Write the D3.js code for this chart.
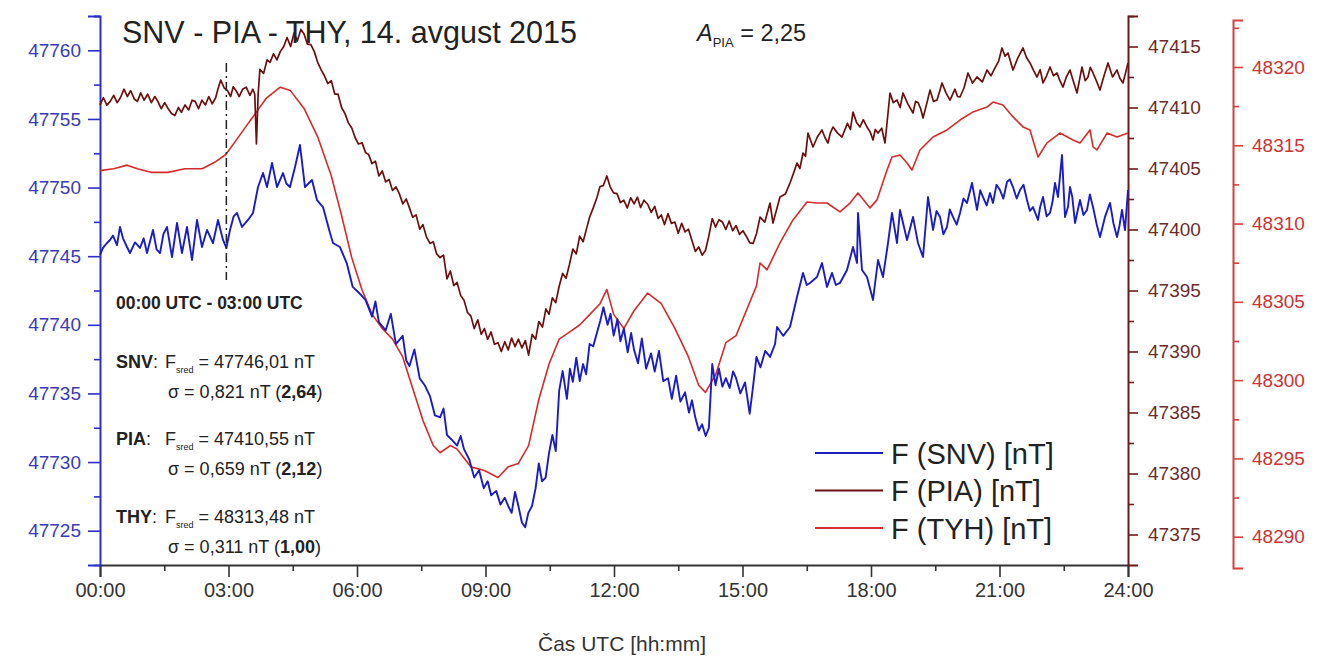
<!DOCTYPE html>
<html>
<head>
<meta charset="utf-8">
<script src="https://cdn.jsdelivr.net/npm/d3@7"></script>
<style>
  body { margin: 0; background: #fff; }
  svg { font-family: "Liberation Sans", Arial, sans-serif; }
</style>
</head>
<body>
<div id="chart"></div>
<script>
// time in hours UTC, total field F in nT
let snvTime = [0,0.07,0.163,0.233,0.303,0.397,0.467,0.537,0.63,0.7,0.817,0.934,1.02,1.097,1.237,1.32,1.401,1.48,1.564,1.681,1.798,1.914,2.031,2.148,2.265,2.381,2.498,2.638,2.755,2.872,2.95,3.035,3.12,3.198,3.315,3.455,3.572,3.689,3.806,3.899,4.016,4.132,4.272,4.35,4.436,4.553,4.669,4.786,4.949,5.066,5.206,5.37,5.44,5.6,5.76,5.9,6.05,6.2,6.352,6.43,6.511,6.67,6.79,6.908,7.067,7.15,7.225,7.34,7.464,7.58,7.704,7.82,7.94,8.02,8.101,8.22,8.337,8.42,8.498,8.62,8.736,8.85,8.96,9.05,9.133,9.25,9.35,9.45,9.53,9.61,9.69,9.768,9.85,9.927,10,10.086,10.17,10.245,10.32,10.404,10.48,10.562,10.64,10.72,10.801,10.9,10.97,11.039,11.12,11.2,11.277,11.35,11.43,11.515,11.6,11.68,11.753,11.85,11.92,11.992,12.08,12.15,12.23,12.32,12.4,12.468,12.56,12.65,12.75,12.865,12.95,13.05,13.15,13.262,13.35,13.45,13.55,13.659,13.75,13.82,13.897,13.98,14.056,14.14,14.215,14.294,14.37,14.45,14.53,14.612,14.7,14.78,14.85,14.95,15.06,15.168,15.25,15.326,15.42,15.53,15.644,15.76,15.806,15.95,16.109,16.272,16.413,16.5,16.576,16.739,16.856,16.973,17.09,17.18,17.276,17.44,17.58,17.673,17.697,17.79,17.907,18.047,18.164,18.28,18.397,18.49,18.607,18.677,18.841,18.981,19.097,19.214,19.331,19.448,19.53,19.611,19.69,19.774,19.84,19.914,20,20.078,20.16,20.241,20.358,20.475,20.55,20.615,20.7,20.778,20.848,20.93,21.012,21.09,21.175,21.24,21.315,21.4,21.479,21.56,21.642,21.71,21.782,21.899,21.95,22.016,22.1,22.179,22.24,22.296,22.366,22.459,22.529,22.6,22.646,22.7,22.763,22.879,22.96,23.043,23.11,23.183,23.27,23.346,23.463,23.58,23.66,23.743,23.8,23.86,23.93,24];
let snvF = [47745.09,47745.6,47745.96,47746.18,47746.5,47745.8,47747.13,47746.3,47745.67,47745.23,47746,47745.6,47746.3,47745.23,47746.91,47745.5,47745.23,47746.6,47747.13,47744.94,47747.42,47745.23,47747.13,47744.72,47747.64,47745.67,47746.91,47745.96,47747.64,47746.18,47745.6,47746.91,47747.9,47748.15,47747.13,47747.64,47748.15,47750.04,47751.06,47750.04,47751.79,47750.04,47751.06,47750.3,47750.04,47751.5,47753.1,47750.04,47750.55,47749.09,47748.58,47746.69,47745.96,47745.67,47744.5,47742.76,47742.32,47741.8,47740.6,47741.7,47740.2,47739.6,47740.8,47738.6,47739.2,47737.4,47737,47738.2,47736.1,47735.6,47734.8,47733.4,47733.26,47733.9,47731.97,47731.6,47731.2,47731.9,47730.94,47730.2,47728.87,47729.4,47728.1,47728.6,47727.58,47727.9,47726.9,47727.4,47726.8,47726.3,47727.83,47726.8,47725.6,47725.25,47726.3,47726.8,47728.1,47729.9,47728.6,47728.87,47730.6,47731.97,47730.8,47735.2,47736.63,47734.6,47736.8,47735.85,47737.6,47735.9,47737.14,47736.4,47738.6,47738.44,47739.4,47740.3,47741.28,47740,47740.8,47739.21,47740.4,47738.8,47739.73,47738,47739.4,47738.18,47737.2,47739,47736.8,47737.92,47736.6,47738.1,47735.9,47736.11,47734.6,47736.3,47734.4,47735.08,47733.6,47734.5,47733.26,47732.3,47732.75,47731.9,47732.49,47737.14,47735.6,47736.8,47735.5,47736.11,47735.4,47736.6,47736.11,47735,47735.8,47733.52,47735.6,47737.66,47736.9,47738.1,47737.66,47738.6,47739.84,47739.2,47739.84,47742.03,47743.78,47742.9,47743.05,47743.48,47744.5,47742.76,47743.78,47742.9,47743.05,47743.99,47745.67,47744.5,47748.15,47743.99,47743.48,47741.81,47744.72,47743.48,47745.96,47748.15,47745.96,47748.37,47746.18,47747.86,47745.96,47744.94,47749.31,47746.91,47748.3,47747.86,47746.6,47747.13,47748.4,47747.86,47747.3,47748.15,47749.2,47748.88,47750.33,47748.37,47749.8,47749.31,47748.7,47749.6,47748.88,47750.2,47749.82,47749.2,47750.41,47750.6,47750.04,47749.2,47749.82,47750.2,47749.09,47748.3,47748.58,47747.64,47748.6,47749.31,47747.9,47748.15,47749,47750.33,47749.31,47752.37,47747.86,47748.6,47750.04,47749.3,47747.42,47749.09,47748,47748.37,47749.5,47748.58,47747.3,47746.4,47747.86,47748.88,47747.4,47746.4,47747.2,47748.37,47746.9,47749.82];

let piaTime = [0,0.08,0.16,0.238,0.32,0.4,0.476,0.56,0.64,0.715,0.8,0.873,0.95,1.03,1.112,1.2,1.28,1.35,1.43,1.51,1.588,1.67,1.747,1.83,1.9,1.985,2.07,2.15,2.223,2.3,2.38,2.461,2.54,2.62,2.7,2.76,2.819,2.9,2.978,3.05,3.11,3.176,3.25,3.33,3.414,3.5,3.57,3.613,3.652,3.692,3.732,3.82,3.9,3.97,4.05,4.13,4.208,4.29,4.367,4.45,4.53,4.605,4.69,4.764,4.84,4.923,5,5.082,5.16,5.24,5.32,5.4,5.48,5.558,5.64,5.72,5.796,5.88,5.96,6.034,6.12,6.2,6.273,6.35,6.43,6.511,6.59,6.67,6.749,6.83,6.91,6.987,7.07,7.15,7.225,7.3,7.38,7.464,7.54,7.62,7.704,7.78,7.86,7.94,8.02,8.101,8.18,8.26,8.337,8.42,8.498,8.58,8.66,8.736,8.82,8.9,8.974,9.05,9.13,9.21,9.292,9.37,9.45,9.53,9.61,9.69,9.768,9.85,9.93,10.006,10.09,10.17,10.245,10.33,10.41,10.483,10.56,10.64,10.721,10.8,10.88,10.959,11.04,11.12,11.198,11.28,11.356,11.43,11.515,11.6,11.674,11.75,11.833,11.91,11.99,12.071,12.15,12.23,12.309,12.39,12.47,12.547,12.62,12.7,12.786,12.87,12.95,13.03,13.103,13.18,13.26,13.34,13.421,13.5,13.58,13.66,13.738,13.82,13.9,13.977,14.06,14.135,14.21,14.294,14.37,14.45,14.532,14.61,14.69,14.77,14.85,14.93,15.01,15.088,15.17,15.247,15.33,15.409,15.52,15.642,15.712,15.875,16,16.109,16.19,16.272,16.34,16.413,16.47,16.529,16.646,16.75,16.856,16.93,16.996,17.05,17.113,17.22,17.323,17.45,17.52,17.58,17.66,17.743,17.82,17.907,17.98,18.047,18.1,18.164,18.25,18.327,18.444,18.52,18.607,18.68,18.747,18.86,18.981,19.04,19.1,19.16,19.214,19.3,19.378,19.46,19.541,19.6,19.658,19.75,19.845,19.96,20.02,20.078,20.17,20.265,20.37,20.475,20.6,20.708,20.8,20.895,20.98,21.058,21.13,21.198,21.315,21.42,21.549,21.63,21.712,21.8,21.876,21.95,22.016,22.1,22.179,22.26,22.343,22.41,22.483,22.56,22.646,22.72,22.809,22.87,22.926,23,23.066,23.12,23.183,23.26,23.346,23.44,23.533,23.64,23.743,23.81,23.883,23.94,24];
let piaF = [47410.21,47410.8,47410.2,47410.5,47411,47410.4,47410.8,47411.5,47410.9,47411.38,47410.7,47410.5,47411.2,47410.6,47411.09,47410.4,47410.9,47410.5,47409.9,47410.4,47409.92,47409.5,47409.34,47410,47409.6,47410.21,47409.8,47410.6,47410.5,47409.9,47410.6,47410.21,47410.9,47410.3,47410.8,47411.6,47412.25,47411.6,47411.38,47410.9,47411.7,47411.38,47410.9,47411.5,47411.67,47411,47411.5,47411.09,47407.01,47411.09,47413.12,47412.8,47413.9,47413.7,47414.4,47413.9,47414.58,47415,47415.74,47415,47416.1,47415.45,47416.4,47416.03,47415.2,47415.16,47414.6,47413.7,47413.1,47412.6,47411.96,47412.2,47411.1,47411.09,47410,47409.5,47408.76,47408.3,47407.5,47407.01,47407.1,47406.3,47406.14,47405.4,47405.6,47404.39,47404.8,47403.9,47404.1,47403.2,47403.5,47402.94,47402.1,47402.5,47401.77,47401,47401.2,47400.03,47400.4,47399.4,47398.86,47399,47398,47397.7,47397.9,47395.95,47396.6,47395.4,47395.66,47394.6,47394.21,47393.2,47392.9,47391.88,47392.6,47391.4,47391.88,47391,47391.6,47390.6,47390.72,47390,47390.8,47390.13,47391.1,47390.4,47391.01,47390.3,47390.9,47389.7,47391.4,47391,47392.46,47392,47393.5,47393.04,47394.4,47394,47395.37,47396.4,47396,47397.12,47398.4,47398,47399.45,47399,47400.03,47401,47401.77,47402.6,47403.52,47403.6,47404.39,47403.5,47403,47402.94,47402.2,47402.4,47401.77,47402.6,47402.1,47402.65,47401.8,47402.4,47402.07,47401.4,47401.9,47400.9,47401.19,47400.4,47401.3,47400.5,47400.61,47399.7,47400.5,47399.8,47400.03,47399.1,47398.2,47398.57,47397.9,47398.28,47399.4,47400.9,47400.2,47400.8,47400.61,47400,47400.7,47399.9,47400.32,47399.6,47399.9,47399.45,47398.9,47398.86,47399.7,47401.02,47400.6,47402.17,47400.53,47402.66,47402.9,47403.81,47404.6,47405.45,47405,47406.27,47406,47407.91,47406.76,47407.6,47408.16,47407.5,47407.09,47407.9,47408.4,47407.9,47407.58,47408.7,47408.2,47409.63,47408.8,47408.4,47409,47408.4,47408,47407.34,47408.2,47407.91,47408.3,47407.09,47411.19,47410.4,47410.61,47410,47411.19,47410.3,47409.55,47410.5,47410.4,47409.9,47409.14,47410.3,47411.43,47410.5,47410.61,47411.3,47412.01,47411.2,47410.61,47411.5,47410.9,47410.86,47411.6,47412.83,47412,47412.5,47412.1,47413.07,47412.6,47413.24,47413.8,47414.88,47414.2,47414.47,47413.07,47414,47414.88,47414.1,47413.65,47413,47412.5,47413.1,47412.01,47412.6,47413.32,47412.6,47412.83,47412.2,47411.68,47412.5,47413.07,47412.2,47411.19,47412.3,47413.32,47412.2,47412.5,47413.3,47412.83,47412.2,47411.43,47412.6,47413.65,47412.5,47413.07,47412.4,47412.01,47412.8,47413.65];

let tyhTime = [0,0.318,0.635,0.873,1.191,1.588,1.985,2.382,2.7,2.938,3.176,3.414,3.652,3.891,4.208,4.446,4.764,5.082,5.399,5.637,5.876,6.114,6.352,6.59,6.828,7.067,7.305,7.543,7.781,7.94,8.178,8.339,8.657,8.974,9.292,9.53,9.768,10.006,10.245,10.483,10.721,10.959,11.198,11.436,11.674,11.833,11.992,12.23,12.468,12.786,13.103,13.421,13.738,13.977,14.135,14.374,14.612,14.85,15.088,15.326,15.409,15.572,15.875,16.179,16.506,16.739,16.973,17.276,17.51,17.697,17.977,18.14,18.374,18.49,18.677,18.841,18.957,19.144,19.448,19.774,20.078,20.382,20.708,20.848,21.082,21.315,21.549,21.712,21.899,22.109,22.412,22.716,22.879,23.113,23.183,23.276,23.51,23.743,24];
let tyhF = [48313.38,48313.5,48313.73,48313.5,48313.27,48313.27,48313.5,48313.5,48313.95,48314.41,48315.31,48316.22,48317.13,48318.03,48318.71,48318.49,48317.35,48315.54,48313.05,48310.55,48307.83,48305.79,48304.2,48303.3,48302.62,48301.48,48299.44,48297.4,48295.82,48295.36,48295.82,48295.59,48294.46,48294.23,48293.78,48294.46,48294.68,48295.82,48298.76,48301.03,48302.62,48303.07,48303.52,48304.2,48304.88,48305.79,48304.2,48303.3,48304.43,48305.56,48304.88,48303.3,48301.48,48299.67,48299.22,48300.35,48302.39,48302.84,48304.43,48306.02,48307.48,48307.04,48308.76,48310.23,48311.38,48311.31,48311.31,48310.74,48311.31,48311.95,48311,48311.51,48313.42,48314.25,48314.38,48313.87,48313.42,48314.7,48315.53,48315.98,48316.61,48317.13,48317.44,48317.76,48317.57,48316.81,48316.17,48315.98,48314.25,48315.15,48315.78,48315.34,48315.15,48315.98,48314.89,48314.7,48315.78,48315.53,48315.78];

let xTicks = [0,3,6,9,12,15,18,21,24];
let snvTicks = [47725,47730,47735,47740,47745,47750,47755,47760];
let piaTicks = [47375,47380,47385,47390,47395,47400,47405,47410,47415];
let tyhTicks = [48290,48295,48300,48305,48310,48315,48320];

let legendNames = ["F (SNV) [nT]", "F (PIA) [nT]", "F (TYH) [nT]"];

const blue = "#1c1cc4", maroon = "#6e0f0f", red = "#d42c2c";
const W = 1322, H = 657;

let svg = d3.select("#chart").append("svg")
    .attr("width", W).attr("height", H);

let x = d3.scaleLinear().domain([0, 24]).range([100, 1128]);
let ySnv = d3.scaleLinear().domain([47722.5, 47762.5]).range([565, 16]);
let yPia = d3.scaleLinear().domain([47372.5, 47417.5]).range([565, 16]);
let yTyh = d3.scaleLinear().domain([48288, 48323]).range([568, 20]);

function minors(ticks, step) {
    let m = ticks.map(d => d + step / 2);
    m.unshift(ticks[0] - step / 2);
    return m;
}

function styleAxis(g, color, labelColor) {
    g.select(".domain").attr("stroke", color).attr("stroke-width", 2);
    g.selectAll(".tick line").attr("stroke", color).attr("stroke-width", 1.6);
    g.selectAll(".tick text").attr("fill", labelColor)
        .style("font-size", "19px")
        .style("font-family", "Liberation Sans, Arial, sans-serif");
}

// x axis
let xg = svg.append("g").attr("transform", "translate(0,565)")
    .call(d3.axisBottom(x).tickValues(xTicks).tickSize(12).tickPadding(6)
        .tickFormat(d => (d < 10 ? "0" : "") + d + ":00"));
styleAxis(xg, "#333", "#333");
xg.selectAll(".tick text").style("font-size", "20px");
let xm = svg.append("g").attr("transform", "translate(0,565)")
    .call(d3.axisBottom(x).tickValues(xTicks.slice(0, -1).map(d => d + 1.5)).tickSize(6).tickFormat(""));
styleAxis(xm, "#333", "#333");
xm.select(".domain").remove();

// left axis SNV
let lg = svg.append("g").attr("transform", "translate(100,0)")
    .call(d3.axisLeft(ySnv).tickValues(snvTicks).tickSize(12).tickPadding(7).tickFormat(d3.format("d")));
styleAxis(lg, "#2e2ec8", "#3a3ab4");
let lm = svg.append("g").attr("transform", "translate(100,0)")
    .call(d3.axisLeft(ySnv).tickValues(minors(snvTicks, 5).concat([47762.5])).tickSize(6).tickFormat(""));
styleAxis(lm, "#2e2ec8", "#3a3ab4");
lm.select(".domain").remove();

// right axis PIA
let rg = svg.append("g").attr("transform", "translate(1128,0)")
    .call(d3.axisRight(yPia).tickValues(piaTicks).tickSize(10).tickPadding(10).tickFormat(d3.format("d")));
styleAxis(rg, "#6a1a1a", "#6b2c2c");
let rm = svg.append("g").attr("transform", "translate(1128,0)")
    .call(d3.axisRight(yPia).tickValues(minors(piaTicks, 5).slice(1)).tickSize(6).tickFormat(""));
styleAxis(rm, "#6a1a1a", "#6b2c2c");
rm.select(".domain").remove();

// right axis TYH
let tg = svg.append("g").attr("transform", "translate(1233,0)")
    .call(d3.axisRight(yTyh).tickValues(tyhTicks).tickSize(10).tickPadding(9).tickFormat(d3.format("d")));
styleAxis(tg, "#d8403c", "#cc3434");
let tm = svg.append("g").attr("transform", "translate(1233,0)")
    .call(d3.axisRight(yTyh).tickValues(minors(tyhTicks, 5).slice(1)).tickSize(6).tickFormat(""));
styleAxis(tm, "#d8403c", "#cc3434");
tm.select(".domain").remove();

// lines
function drawLine(times, vals, yScale, color, width) {
    let pts = times.map((t, i) => [t, vals[i]]);
    svg.append("path")
        .datum(pts)
        .attr("fill", "none")
        .attr("stroke", color)
        .attr("stroke-width", width)
        .attr("stroke-linejoin", "round")
        .attr("d", d3.line().x(d => x(d[0])).y(d => yScale(d[1])));
}
drawLine(tyhTime, tyhF, yTyh, red, 1.6);
drawLine(piaTime, piaF, yPia, maroon, 1.7);
drawLine(snvTime, snvF, ySnv, blue, 1.9);

// dash-dot marker around 03:00
svg.append("line")
    .attr("x1", x(2.95)).attr("x2", x(2.95))
    .attr("y1", 63).attr("y2", 280)
    .attr("stroke", "#222").attr("stroke-width", 1.5)
    .attr("stroke-dasharray", "9,4,2,4");

// title
svg.append("text").attr("x", 122).attr("y", 43)
    .style("font-size", "30.5px").attr("fill", "#222")
    .text("SNV - PIA - THY, 14. avgust 2015");

let a = svg.append("text").attr("x", 697).attr("y", 41).style("font-size", "23.5px").attr("fill", "#222");
a.append("tspan").style("font-style", "italic").text("A");
a.append("tspan").attr("dy", 6).style("font-size", "13px").text("PIA");
a.append("tspan").attr("dy", -6).text(" = 2,25");

// statistics box
svg.append("text").attr("x", 116).attr("y", 309)
    .style("font-size", "17.5px").style("font-weight", "bold").attr("fill", "#222")
    .text("00:00 UTC - 03:00 UTC");

let stats = [
    {name: "SNV", mean: "47746,01", sigma: "0,821", ratio: "2,64", y: 368},
    {name: "PIA", mean: "47410,55", sigma: "0,659", ratio: "2,12", y: 445},
    {name: "THY", mean: "48313,48", sigma: "0,311", ratio: "1,00", y: 523}
];
stats.forEach(function(s) {
    let t = svg.append("text").attr("x", 116).attr("y", s.y)
        .style("font-size", "18px").attr("fill", "#222");
    t.append("tspan").style("font-weight", "bold").text(s.name);
    t.append("tspan").text(":");
    t.append("tspan").attr("x", 165).text("F");
    t.append("tspan").attr("dy", 5).style("font-size", "9px").text("sred");
    t.append("tspan").attr("dy", -5).text(" = " + s.mean + " nT");
    let u = svg.append("text").attr("x", 168).attr("y", s.y + 30)
        .style("font-size", "18px").attr("fill", "#222");
    u.append("tspan").text("\u03c3 = " + s.sigma + " nT (");
    u.append("tspan").style("font-weight", "bold").text(s.ratio);
    u.append("tspan").text(")");
});

// legend
let legendColors = [blue, maroon, red];
legendNames.forEach(function(n, i) {
    let ly = 453 + i * 37.5;
    svg.append("line").attr("x1", 815).attr("x2", 883).attr("y1", ly).attr("y2", ly)
        .attr("stroke", legendColors[i]).attr("stroke-width", 2);
    svg.append("text").attr("x", 891).attr("y", ly + 10.5)
        .style("font-size", "29px").attr("fill", "#222").text(n);
});

// x axis title
svg.append("text").attr("x", 622).attr("y", 651)
    .attr("text-anchor", "middle").style("font-size", "21px").attr("fill", "#333")
    .text("Čas UTC [hh:mm]");
</script>
</body>
</html>
